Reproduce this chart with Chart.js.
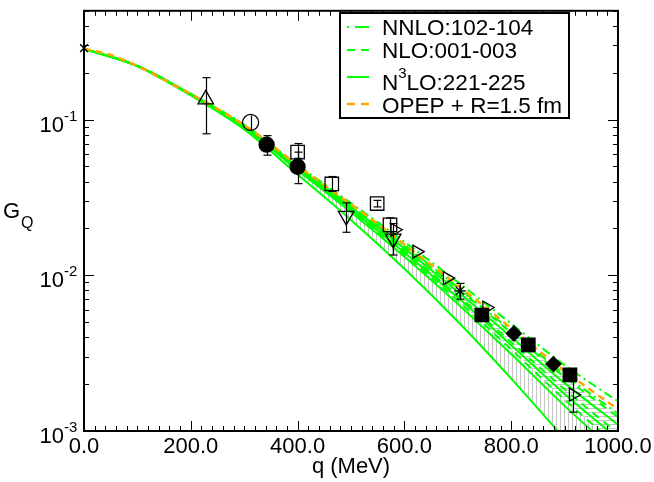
<!DOCTYPE html>
<html>
<head>
<meta charset="UTF-8">
<title>G_Q vs q</title>
<script src="https://cdn.jsdelivr.net/npm/chart.js"></script>
<style>
  body { margin: 0; background: #fff; }
  canvas { display: block; }
</style>
</head>
<body>
<canvas id="grafico" width="654" height="482"></canvas>
<script>
// curvas teoricas: q en MeV
const qOpep = [0, 50, 100, 150, 200, 250, 300, 350, 400, 450, 500, 550, 600, 650, 700, 750, 800, 850, 900, 950, 1000];
const gOpep = [0.285, 0.260, 0.221, 0.180, 0.146, 0.117, 0.0923, 0.0692, 0.0506, 0.0380, 0.0285, 0.0214, 0.0158, 0.0117, 0.00861, 0.00631, 0.00457, 0.00331, 0.00243, 0.00182, 0.00138];

const qBand = [0, 100, 200, 300, 400, 500, 600, 700, 800, 900, 1000];
const gNnlo102 = [0.285, 0.2213, 0.1466, 0.0927, 0.0512, 0.0291, 0.0164, 0.00904, 0.00489, 0.00265, 0.00155];
const gNnlo104 = [0.285, 0.2213, 0.1459, 0.0920, 0.0502, 0.0282, 0.0156, 0.00838, 0.00440, 0.00230, 0.00129];
const gNlo001 = [0.285, 0.2213, 0.1459, 0.0918, 0.0500, 0.0279, 0.01535, 0.00820, 0.00428, 0.00222, 0.00123];
const gNlo002 = [0.285, 0.2213, 0.1452, 0.0906, 0.0488, 0.0268, 0.01435, 0.00743, 0.00372, 0.00185, 0.000966];
const gNlo003 = [0.285, 0.2208, 0.1449, 0.0897, 0.0479, 0.0259, 0.01358, 0.00687, 0.00334, 0.00159, 0.000794];
const gN3lo221 = [0.285, 0.2213, 0.1455, 0.0912, 0.0494, 0.0274, 0.01486, 0.00783, 0.00401, 0.00203, 0.001096];
const gN3lo222 = [0.285, 0.2208, 0.1452, 0.0904, 0.0484, 0.0264, 0.01403, 0.00719, 0.00356, 0.00173, 0.000891];
const gN3lo223 = [0.285, 0.2208, 0.1445, 0.0893, 0.0473, 0.0254, 0.01315, 0.00655, 0.00312, 0.00145, 0.000708];
const gN3lo225 = [0.285, 0.2203, 0.1429, 0.0865, 0.0444, 0.0227, 0.01102, 0.00505, 0.00217, 0.000893, 0.000376];

// datos experimentales (q, G, error inferior, error superior)
const qCross = [0], gCross = [0.288];
const qTriUp = [228], gTriUp = [0.135], loTriUp = [0.0811], hiTriUp = [0.186];
const qCircOpen = [312], gCircOpen = [0.0959], loCircOpen = [0.0860], hiCircOpen = [0.1065];
const qCircFill = [342, 400], gCircFill = [0.0690, 0.0498], loCircFill = [0.0591, 0.0388], hiCircFill = [0.0789, 0.0618];
const qSqOpen = [400, 464, 549, 573], gSqOpen = [0.0618, 0.0386, 0.0289, 0.0211];
const loSqOpen = [0.0564, 0.0346, 0.0275, 0.0190], hiSqOpen = [0.0702, 0.0431, 0.0303, 0.0234];
const qTriDown = [491, 579], gTriDown = [0.0241, 0.0172], loTriDown = [0.0189, 0.0135], hiTriDown = [0.0292, 0.0215];
const qTriRight = [582, 623, 680, 754, 916], gTriRight = [0.0196, 0.0142, 0.0096, 0.00621, 0.00171];
const loTriRight = [null, null, null, null, 0.00132], hiTriRight = [null, null, null, null, 0.00215];
const qStar = [704], gStar = [0.00794], loStar = [0.00703], hiStar = [0.00887];
const qSqFill = [745, 832, 910], gSqFill = [0.00556, 0.00357, 0.00229];
const qDiamond = [805, 879], gDiamond = [0.00423, 0.00269];

const xTicks = [0, 200, 400, 600, 800, 1000];
const yDecades = [-3, -2, -1];

const VERDE = '#00ff00';
const NARANJA = '#ffa500';
const FUENTE = '"Liberation Sans", Arial, sans-serif';

const pares = (qs, gs) => qs.map((q, i) => ({ x: q, y: gs[i] }));

const canvas = document.getElementById('grafico');
const ctx0 = canvas.getContext('2d');

function rayado(vertical, fondo) {
  const c = document.createElement('canvas');
  c.width = 4; c.height = 4;
  const g = c.getContext('2d');
  if (fondo) { g.fillStyle = fondo; g.fillRect(0, 0, 4, 4); }
  g.fillStyle = '#c4c4c4';
  if (vertical) g.fillRect(0, 0, 1, 4); else g.fillRect(0, 0, 4, 1);
  return ctx0.createPattern(c, 'repeat');
}

function marcas(qs, gs, estilo, radio, relleno, rot) {
  return {
    data: pares(qs, gs),
    showLine: false,
    pointStyle: estilo,
    pointRadius: radio,
    pointRotation: rot || 0,
    pointBorderColor: '#000',
    pointBorderWidth: 1.3,
    pointBackgroundColor: relleno ? '#000' : 'rgba(0,0,0,0)',
    clip: false
  };
}

function curva(qs, gs, color, ancho, guiones) {
  return {
    data: pares(qs, gs),
    showLine: true,
    borderColor: color,
    borderWidth: ancho,
    borderDash: guiones,
    pointRadius: 0,
    cubicInterpolationMode: 'monotone',
    fill: false,
    clip: 1
  };
}

const datasets = [
  marcas(qCross, gCross, 'crossRot', 5.5, false),
  marcas(qTriUp, gTriUp, 'triangle', 9, false),
  marcas(qCircOpen, gCircOpen, 'circle', 8, false),
  marcas(qCircFill, gCircFill, 'circle', 7.5, true),
  marcas(qSqOpen, gSqOpen, 'rect', 9.5, false),
  marcas(qTriDown, gTriDown, 'triangle', 9, false, 180),
  marcas(qTriRight, gTriRight, 'triangle', 7.5, false, 90),
  marcas(qStar, gStar, 'star', 6, false),
  marcas(qSqFill, gSqFill, 'rect', 9.5, true),
  marcas(qDiamond, gDiamond, 'rectRot', 7.5, true),
  curva(qOpep, gOpep, NARANJA, 2.5, [7, 5]),
  curva(qBand, gNnlo102, VERDE, 2, [9, 4, 2, 4]),
  curva(qBand, gNnlo104, VERDE, 2, [9, 4, 2, 4]),
  curva(qBand, gNlo001, VERDE, 2, [8, 6]),
  curva(qBand, gNlo002, VERDE, 2, [8, 6]),
  curva(qBand, gNlo003, VERDE, 2, [8, 6]),
  curva(qBand, gN3lo221, VERDE, 2, []),
  curva(qBand, gN3lo222, VERDE, 2, []),
  curva(qBand, gN3lo223, VERDE, 2, []),
  curva(qBand, gN3lo225, VERDE, 2, [])
];
// bandas rayadas
datasets[13].fill = { target: 15 };
datasets[13].backgroundColor = rayado(false, '#ffffff');
datasets[16].fill = { target: 19 };
datasets[16].backgroundColor = rayado(true, null);

const barras = [
  [qTriUp, loTriUp, hiTriUp, 4],
  [qCircOpen, loCircOpen, hiCircOpen, 0],
  [qCircFill, loCircFill, hiCircFill, 4],
  [qSqOpen, loSqOpen, hiSqOpen, 4],
  [qTriDown, loTriDown, hiTriDown, 4],
  [qTriRight, loTriRight, hiTriRight, 4],
  [qStar, loStar, hiStar, 4]
];

function linea(ctx, x1, y1, x2, y2) {
  ctx.beginPath(); ctx.moveTo(x1, y1); ctx.lineTo(x2, y2); ctx.stroke();
}

const errores = {
  id: 'errores',
  afterDatasetsDraw(chart) {
    const ctx = chart.ctx, xs = chart.scales.x, ys = chart.scales.y;
    ctx.save();
    ctx.strokeStyle = '#000';
    ctx.lineWidth = 1.2;
    barras.forEach(([qs, lo, hi, cap]) => {
      qs.forEach((q, i) => {
        if (lo[i] == null) return;
        const px = Math.round(xs.getPixelForValue(q)) + 0.5;
        const y1 = ys.getPixelForValue(lo[i]), y2 = ys.getPixelForValue(hi[i]);
        linea(ctx, px, y1, px, y2);
        if (cap) {
          linea(ctx, px - cap, y1, px + cap, y1);
          linea(ctx, px - cap, y2, px + cap, y2);
        }
      });
    });
    ctx.restore();
  }
};

const ejes = {
  id: 'ejes',
  afterDraw(chart) {
    const ctx = chart.ctx, a = chart.chartArea;
    const xs = chart.scales.x, ys = chart.scales.y;
    ctx.save();
    ctx.strokeStyle = '#000';
    ctx.fillStyle = '#000';
    ctx.lineWidth = 1;
    // marcas del eje x (arriba y abajo, hacia dentro)
    for (let q = 0; q <= 1000; q += 20) {
      const px = Math.round(xs.getPixelForValue(q)) + 0.5;
      const len = q % 200 === 0 ? 10 : 5;
      linea(ctx, px, a.bottom, px, a.bottom - len);
      linea(ctx, px, a.top, px, a.top + len);
    }
    // marcas del eje y (log)
    yDecades.forEach(e => {
      for (let m = 1; m <= 9; m++) {
        const v = m * Math.pow(10, e);
        if (v > ys.max * 1.0001) continue;
        const py = Math.round(ys.getPixelForValue(v)) + 0.5;
        const len = m === 1 ? 10 : 5;
        linea(ctx, a.left, py, a.left + len, py);
        linea(ctx, a.right, py, a.right - len, py);
      }
    });
    ctx.lineWidth = 2;
    ctx.strokeRect(a.left, a.top, a.right - a.left, a.bottom - a.top);

    // etiquetas
    ctx.font = '22px ' + FUENTE;
    ctx.textAlign = 'center';
    ctx.textBaseline = 'alphabetic';
    xTicks.forEach(q => ctx.fillText(q.toFixed(1), xs.getPixelForValue(q), a.bottom + 22));
    yDecades.forEach(e => {
      const py = ys.getPixelForValue(Math.pow(10, e));
      ctx.font = '22px ' + FUENTE;
      ctx.textAlign = 'right';
      ctx.fillText('10', 64, py + 12);
      ctx.font = '15px ' + FUENTE;
      ctx.textAlign = 'left';
      ctx.fillText(String(e), 64, py + 1);
    });
    // titulos
    ctx.font = '22px ' + FUENTE;
    ctx.textAlign = 'center';
    ctx.fillText('q (MeV)', (a.left + a.right) / 2, 473);
    ctx.textAlign = 'left';
    ctx.fillText('G', 3, 218);
    ctx.font = '16px ' + FUENTE;
    ctx.fillText('Q', 21, 228);

    // leyenda
    const lx = 340, ly = 13, lw = 229, lh = 105;
    ctx.fillStyle = '#fff';
    ctx.fillRect(lx, ly, lw, lh);
    ctx.lineWidth = 2;
    ctx.strokeStyle = '#000';
    ctx.strokeRect(lx, ly, lw, lh);
    const filas = [
      { y: 27, base: 35, color: VERDE, dash: [2, 6, 13, 0], ancho: 2, txt: 'NNLO:102-104' },
      { y: 50, base: 58, color: VERDE, dash: [8, 6], ancho: 2, txt: 'NLO:001-003' },
      { y: 77, base: 90, color: VERDE, dash: [], ancho: 2, txt: null },
      { y: 104, base: 113, color: NARANJA, dash: [8, 6], ancho: 2.5, txt: 'OPEP + R=1.5 fm' }
    ];
    filas.forEach(f => {
      ctx.strokeStyle = f.color;
      ctx.lineWidth = f.ancho;
      ctx.setLineDash(f.dash);
      linea(ctx, 347, f.y, 369, f.y);
      ctx.setLineDash([]);
      ctx.fillStyle = '#000';
      ctx.font = '22.5px ' + FUENTE;
      ctx.textAlign = 'left';
      if (f.txt) {
        ctx.fillText(f.txt, 382, f.base);
      } else {
        ctx.fillText('N', 382, f.base);
        const wN = ctx.measureText('N').width;
        ctx.font = '15px ' + FUENTE;
        ctx.fillText('3', 382 + wN, f.base - 12);
        const w3 = ctx.measureText('3').width;
        ctx.font = '22.5px ' + FUENTE;
        ctx.fillText('LO:221-225', 382 + wN + w3, f.base);
      }
    });
    ctx.restore();
  }
};

new Chart(canvas, {
  type: 'scatter',
  data: { datasets: datasets },
  options: {
    responsive: false,
    animation: false,
    events: [],
    layout: { padding: { left: 84, right: 36, top: 3, bottom: 51 } },
    scales: {
      x: { type: 'linear', min: 0, max: 1000, display: false },
      y: { type: 'logarithmic', min: 0.001, max: 0.5, display: false }
    },
    plugins: {
      legend: { display: false },
      tooltip: { enabled: false },
      filler: { drawTime: 'beforeDatasetsDraw' }
    }
  },
  plugins: [errores, ejes]
});
</script>
</body>
</html>
